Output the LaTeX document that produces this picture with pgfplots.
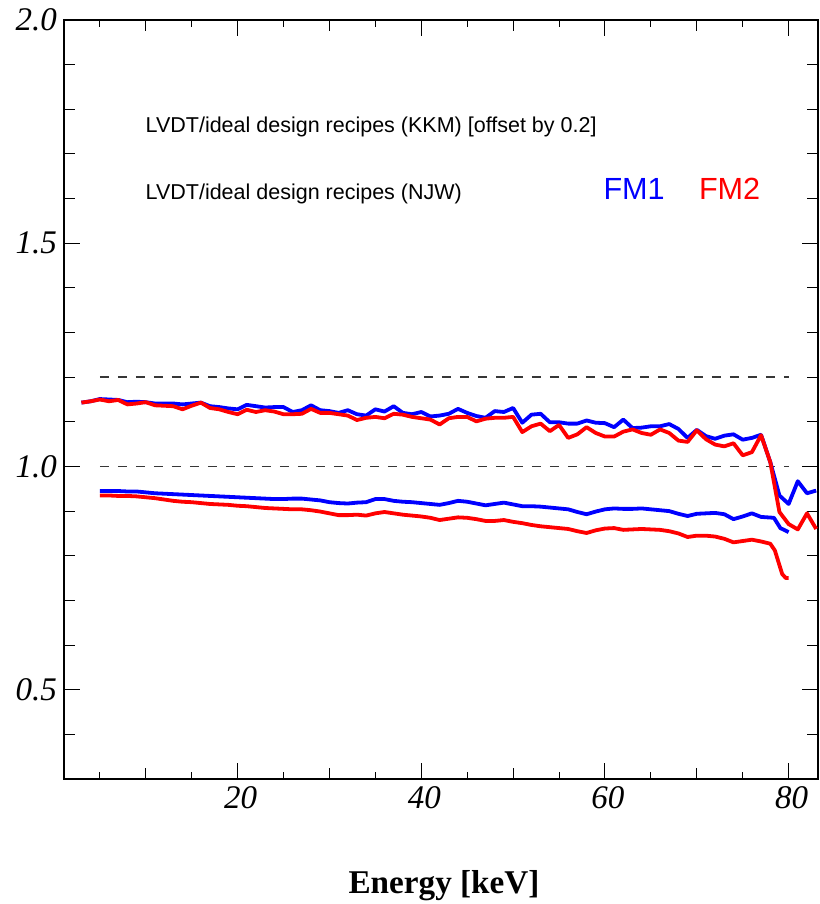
\documentclass[border=0pt]{standalone}
\usepackage{fontspec}
\setmainfont{Liberation Sans}
\newfontfamily\serif{Liberation Serif}
\usepackage{pgfplots}
\pgfplotsset{compat=1.18}
\definecolor{dgray}{RGB}{55,55,55}
\begin{document}
\begin{tikzpicture}
\useasboundingbox (-32pt,-62.5pt) rectangle (377.5pt,389.5pt);
\begin{axis}[
  at={(0,0)}, anchor=south west,
  scale only axis, width=377pt, height=379.5pt,
  xmin=1.1, xmax=83.2, ymin=0.3, ymax=2.0,
  xtick={20,40,60,80}, xticklabels={20,40,60,80},
  minor xtick={5,15,25,35,45,55,65,75},
  extra x ticks={10,30,50,70}, extra x tick labels={},
  extra x tick style={major tick length=5.5pt},
  ytick={0.5,1.0,1.5,2.0}, yticklabels={0.5,1.0,1.5,2.0},
  extra y ticks={0.4,0.6,0.7,0.8,0.9,1.1,1.2,1.3,1.4,1.6,1.7,1.8,1.9},
  extra y tick labels={},
  extra y tick style={major tick length=5.5pt},
  major tick length=8pt, minor tick length=3.5pt,
  tick align=inside,
  tick style={black, line width=0.5pt},
  axis line style={black, line width=0.6pt},
  ticklabel style={font=\serif\itshape\fontsize{16.5}{16.5}\selectfont},
  xticklabel style={xshift=1.5pt},
  xlabel={Energy [keV]},
  xlabel style={font=\serif\bfseries\fontsize{16.6}{16.6}\selectfont,
    at={(axis description cs:0.5,0)}, anchor=base, yshift=-57pt, xshift=1.5pt},
  clip=false,
]
% reference lines
\addplot[dgray, line width=0.75pt, dash pattern=on 4.5pt off 4.5pt] coordinates {(5,1.2) (80,1.2)};
\addplot[dgray, line width=0.75pt, dash pattern=on 4.5pt off 4.5pt] coordinates {(5,1.0) (80,1.0)};

% KKM FM1 (blue, offset)
\addplot[blue, line width=1.9pt, line join=round] coordinates {
(3,1.143)(4,1.146)(5,1.151)(6,1.150)(7,1.149)(8,1.144)(9,1.145)(10,1.144)
(11,1.141)(12,1.141)(13,1.141)(14,1.139)(15,1.141)(16,1.143)(17,1.135)(18,1.133)
(19,1.130)(20,1.128)(21,1.138)(22,1.135)(23,1.132)(24,1.133)(25,1.133)(26,1.122)
(27,1.126)(28,1.137)(29,1.126)(30,1.124)(31,1.120)(32,1.126)(33,1.117)(34,1.114)
(35,1.128)(36,1.123)(37,1.135)(38,1.120)(39,1.117)(40,1.122)(41,1.112)(42,1.114)
(43,1.118)(44,1.129)(45,1.120)(46,1.113)(47,1.109)(48,1.124)(49,1.122)(50,1.131)
(51,1.098)(52,1.116)(53,1.118)(54,1.099)(55,1.099)(56,1.096)(57,1.096)(58,1.103)
(59,1.098)(60,1.097)(61,1.088)(62,1.105)(63,1.086)(64,1.087)(65,1.090)(66,1.090)
(67,1.095)(68,1.084)(69,1.064)(70,1.082)(71,1.068)(72,1.062)(73,1.069)(74,1.072)
(75,1.060)(76,1.064)(77,1.071)(78,1.010)(79,0.935)(80,0.916)(81,0.967)(82,0.940)(83,0.946)};

% KKM FM2 (red, offset)
\addplot[red, line width=1.9pt, line join=round] coordinates {
(3,1.143)(4,1.146)(5,1.150)(6,1.146)(7,1.149)(8,1.139)(9,1.141)(10,1.144)
(11,1.137)(12,1.136)(13,1.135)(14,1.128)(15,1.136)(16,1.143)(17,1.131)(18,1.128)
(19,1.122)(20,1.117)(21,1.127)(22,1.122)(23,1.126)(24,1.123)(25,1.117)(26,1.117)
(27,1.118)(28,1.129)(29,1.120)(30,1.120)(31,1.117)(32,1.114)(33,1.104)(34,1.109)
(35,1.111)(36,1.108)(37,1.118)(38,1.116)(39,1.111)(40,1.108)(41,1.105)(42,1.094)
(43,1.108)(44,1.111)(45,1.111)(46,1.101)(47,1.107)(48,1.109)(49,1.109)(50,1.111)
(51,1.077)(52,1.090)(53,1.096)(54,1.079)(55,1.093)(56,1.064)(57,1.072)(58,1.088)
(59,1.075)(60,1.067)(61,1.067)(62,1.078)(63,1.083)(64,1.075)(65,1.071)(66,1.083)
(67,1.075)(68,1.058)(69,1.055)(70,1.081)(71,1.061)(72,1.049)(73,1.045)(74,1.052)
(75,1.025)(76,1.032)(77,1.070)(78,1.010)(79,0.898)(80,0.871)(81,0.859)(82,0.895)(83,0.860)};

% NJW FM1 (blue)
\addplot[blue, line width=1.9pt, line join=round] coordinates {
(5,0.945)(6,0.945)(7,0.945)(8,0.944)(9,0.944)(10,0.942)(11,0.940)(12,0.939)
(13,0.938)(14,0.937)(15,0.936)(16,0.935)(17,0.934)(18,0.933)(19,0.932)(20,0.931)
(21,0.930)(22,0.929)(23,0.928)(24,0.927)(25,0.927)(26,0.928)(27,0.928)(28,0.926)
(29,0.924)(30,0.920)(31,0.918)(32,0.917)(33,0.919)(34,0.920)(35,0.927)(36,0.927)
(37,0.923)(38,0.921)(39,0.920)(40,0.918)(41,0.916)(42,0.914)(43,0.918)(44,0.923)
(45,0.921)(46,0.917)(47,0.913)(48,0.916)(49,0.919)(50,0.915)(51,0.911)(52,0.911)
(53,0.910)(54,0.908)(55,0.906)(56,0.904)(57,0.898)(58,0.893)(59,0.899)(60,0.904)
(61,0.906)(62,0.905)(63,0.905)(64,0.906)(65,0.904)(66,0.902)(67,0.900)(68,0.894)
(69,0.889)(70,0.894)(71,0.895)(72,0.896)(73,0.893)(74,0.882)(75,0.888)(76,0.895)
(77,0.887)(78.4,0.885)(79.1,0.862)(80,0.853)};

% NJW FM2 (red)
\addplot[red, line width=1.9pt, line join=round] coordinates {
(5,0.935)(6,0.935)(7,0.934)(8,0.934)(9,0.933)(10,0.931)(11,0.929)(12,0.926)
(13,0.923)(14,0.921)(15,0.920)(16,0.918)(17,0.916)(18,0.915)(19,0.914)(20,0.912)
(21,0.911)(22,0.909)(23,0.907)(24,0.906)(25,0.905)(26,0.904)(27,0.904)(28,0.902)
(29,0.899)(30,0.895)(31,0.891)(32,0.891)(33,0.892)(34,0.890)(35,0.895)(36,0.898)
(37,0.895)(38,0.892)(39,0.890)(40,0.888)(41,0.885)(42,0.880)(43,0.883)(44,0.886)
(45,0.885)(46,0.882)(47,0.878)(48,0.878)(49,0.880)(50,0.876)(51,0.873)(52,0.869)
(53,0.866)(54,0.864)(55,0.862)(56,0.860)(57,0.855)(58,0.851)(59,0.857)(60,0.861)
(61,0.862)(62,0.858)(63,0.859)(64,0.860)(65,0.859)(66,0.858)(67,0.855)(68,0.850)
(69,0.842)(70,0.845)(71,0.845)(72,0.843)(73,0.838)(74,0.830)(75,0.833)(76,0.836)
(77,0.832)(78,0.827)(78.5,0.812)(79.3,0.759)(79.7,0.750)(80,0.750)};

\node[anchor=base west, font=\fontsize{10.75}{12}\selectfont, inner sep=0pt] at (axis cs:9.95,1.749) {LVDT/ideal design recipes (KKM) [offset by 0.2]};
\node[anchor=base west, font=\fontsize{10.75}{12}\selectfont, inner sep=0pt] at (axis cs:9.95,1.599) {LVDT/ideal design recipes (NJW)};
\node[anchor=base west, font=\fontsize{15.3}{16}\selectfont, text=blue, inner sep=0pt] at (axis cs:59.8,1.599) {FM1};
\node[anchor=base west, font=\fontsize{15.3}{16}\selectfont, text=red, inner sep=0pt] at (axis cs:70.2,1.599) {FM2};
\end{axis}
\end{tikzpicture}
\end{document}
